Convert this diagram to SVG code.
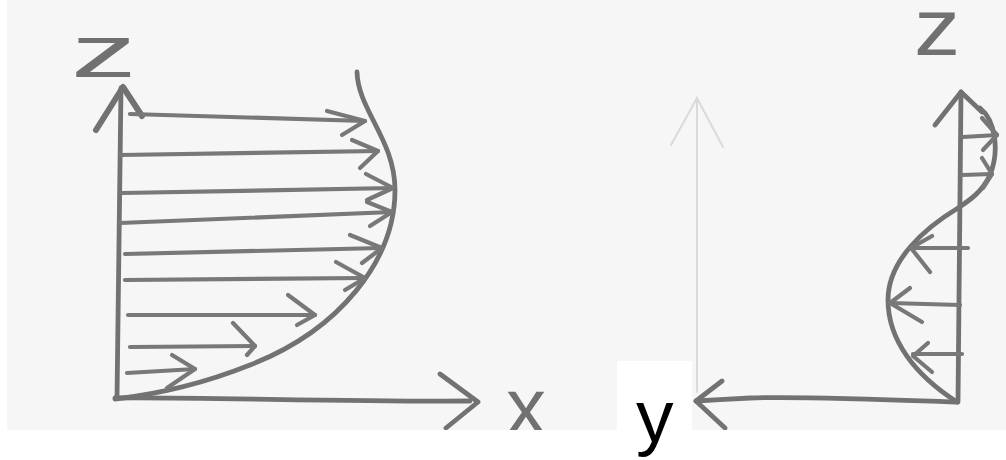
<svg xmlns="http://www.w3.org/2000/svg" width="1006" height="460" viewBox="0 0 1006 460">
<defs>
<clipPath id="photo"><rect x="7" y="0" width="999" height="430"/></clipPath>
<style>
.p{fill:none;stroke:#727272;stroke-width:4.8;stroke-linecap:round;stroke-linejoin:round}
.t{stroke-width:4.2;stroke:#787878}
.faint{fill:none;stroke:#dadada;stroke-width:2;stroke-linecap:round}
.lbl{font-family:"Liberation Sans",Arial,sans-serif;fill:#717171}
</style>
</defs>
<rect width="1006" height="460" fill="#ffffff"/>
<rect x="7" y="0" width="999" height="430" fill="#f6f6f6"/>
<g clip-path="url(#photo)">
<g id="left-axes">
<path class="p" d="M117,398 L121,88"/>
<path class="p" d="M96,130 L123,87 L142,116" style="stroke-width:6"/>
<path class="p" d="M115,398 C200,397 350,402 470,401"/>
<path class="p" d="M440,374 L478,402 L446,428"/>
</g>
<g id="left-profile">
<path class="p" d="M357,72 C358,110 395,140 395,190 C395,260 340,330 250,365 C200,385 150,395 115,399"/>
</g>
<g id="left-arrows">
<path class="p t" d="M130,114 L365,121"/><path class="p t" d="M327,111 L365,121 L342,135"/>
<path class="p t" d="M120,155 L378,151"/><path class="p t" d="M352,140 L378,151 L360,168"/>
<path class="p t" d="M122,193 L393,188"/><path class="p t" d="M366,174 L393,188 L367,200"/>
<path class="p t" d="M120,223 L392,212"/><path class="p t" d="M367,202 L392,212 L370,226"/>
<path class="p t" d="M125,254 L382,248"/><path class="p t" d="M350,235 L382,248 L362,263"/>
<path class="p t" d="M125,280 L365,278"/><path class="p t" d="M336,262 L365,278 L345,290"/>
<path class="p t" d="M128,315 L315,315"/><path class="p t" d="M288,295 L315,315 L297,325"/>
<path class="p t" d="M130,347 L255,346"/><path class="p t" d="M233,323 L255,346 L247,355"/>
<path class="p t" d="M127,373 L195,369"/><path class="p t" d="M172,355 L195,369 L167,388"/>
</g>
<g id="right-axes">
<path class="faint" d="M697,392 L697,100"/>
<path class="faint" d="M671,145 L697,98 L723,147"/>
<path class="p" d="M958,402 L961,92"/>
<path class="p" d="M935,125 L961,92 L982,112"/>
<path class="p" d="M957,402 C900,400 800,396 750,398 C730,399 715,400 696,401"/>
<path class="p" d="M722,381 L696,401 L725,428"/>
</g>
<g id="right-profile">
<path class="p" d="M980,108 C995,120 1000,150 990,175 C982,192 970,200 958,208 C925,228 888,260 888,300 C888,340 915,375 957,402"/>
</g>
<g id="right-arrows">
<path class="p t" d="M963,137 L997,135"/><path class="p t" d="M982,118 L997,135 L983,150"/>
<path class="p t" d="M962,175 L992,174"/><path class="p t" d="M982,158 L992,174 L983,188"/>
<path class="p t" d="M968,248 L912,248"/><path class="p t" d="M932,236 L911,248 L930,272"/>
<path class="p t" d="M960,305 L890,303"/><path class="p t" d="M910,288 L890,303 L922,322"/>
<path class="p t" d="M962,354 L913,354"/><path class="p t" d="M928,343 L913,356 L932,372"/>
</g>
<g id="labels">
<text class="lbl" font-size="75" transform="translate(71,77) scale(1.75,1)">z</text>
<text class="lbl" font-size="79" transform="translate(914,55) scale(1.17,1)">z</text>
<text class="lbl" font-size="80" x="506" y="434">x</text>
</g>
</g>
<g id="y-label">
<rect x="617" y="361" width="75" height="99" fill="#ffffff"/>
<text x="636" y="442" font-family="'Liberation Sans',Arial,sans-serif" font-size="75" fill="#000000">y</text>
</g>
</svg>
